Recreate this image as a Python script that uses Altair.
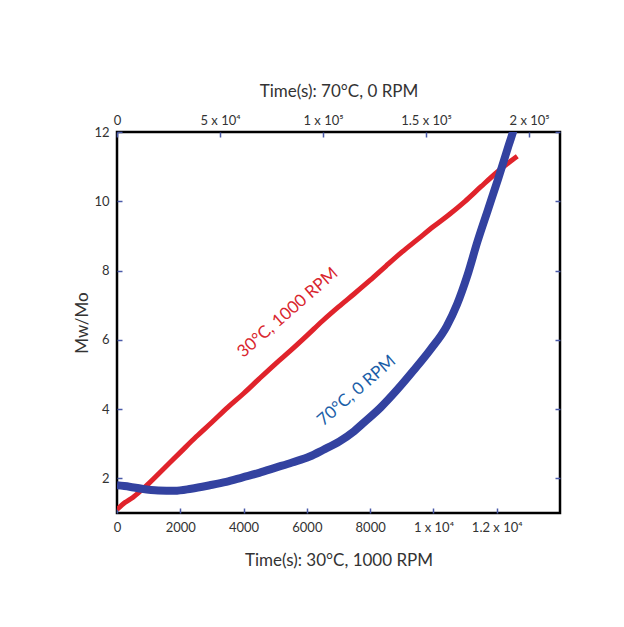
import altair as alt
import pandas as pd

# 30°C, 1000 RPM series (bottom time axis, s)
red_t = [0, 250, 500, 1000, 1500, 2000, 2500, 3000, 3500, 4000, 4500, 5000, 5500, 6000,
         6500, 7000, 7500, 8000, 8500, 9000, 9500, 10000, 10500, 11000, 11500, 12000, 12500, 12650]
red_mw = [1.1, 1.3, 1.45, 1.85, 2.3, 2.75, 3.2, 3.62, 4.05, 4.45, 4.88, 5.3, 5.7, 6.12,
          6.55, 6.95, 7.33, 7.72, 8.13, 8.53, 8.9, 9.27, 9.62, 10.0, 10.42, 10.83, 11.2, 11.3]

# 70°C, 0 RPM series (top time axis, s)
blue_t = [0, 6000, 12000, 20000, 28000, 36000, 45000, 53000, 61000, 69000, 77000, 85000,
          93500, 100000, 108000, 115000, 120000, 128000, 136000, 144000, 152000, 160000,
          165000, 170000, 175000, 180000, 185000, 190000, 193000, 194500]
blue_mw = [1.8, 1.76, 1.7, 1.65, 1.64, 1.7, 1.8, 1.9, 2.03, 2.16, 2.31, 2.46,
           2.63, 2.82, 3.07, 3.36, 3.62, 4.05, 4.56, 5.12, 5.71, 6.39,
           7.02, 7.85, 8.85, 9.75, 10.65, 11.6, 12.15, 12.45]

bottom_ticks = [0, 2000, 4000, 6000, 8000, 10000, 12000]
bottom_labels = ["0", "2000", "4000", "6000", "8000", "1 x 10\u2074", "1.2 x 10\u2074"]
top_ticks = [0, 50000, 100000, 150000, 200000]
top_labels = ["0", "5 x 10\u2074", "1 x 10\u2075", "1.5 x 10\u2075", "2 x 10\u2075"]
y_ticks = [2, 4, 6, 8, 10, 12]

labels_text = ["30°C, 1000 RPM", "70°C, 0 RPM"]
labels_x = [5400, 7575]   # in bottom-axis units
labels_y = [6.78, 4.53]

RED = "#e0232b"
BLUE = "#3342a0"
TICK = "#4a5aa8"
TXT = "#333333"
FONT = "Lato"

def label_expr(vals, labs):
    expr = "datum.label"
    for v, l in zip(vals, labs):
        expr = f"datum.value == {v} ? '{l}' : " + expr
    return expr

red_df = pd.DataFrame({"t": red_t, "mw": red_mw})
blue_df = pd.DataFrame({"t": blue_t, "mw": blue_mw})
lab_df = pd.DataFrame({"x": labels_x, "y": labels_y, "text": labels_text})

yscale = alt.Scale(domain=[1, 12], nice=False, zero=False)

common_axis = dict(domain=False, grid=False, tickSize=5, offset=-5, tickWidth=1.5,
                   tickColor=TICK, labelFont=FONT, labelFontSize=13, labelColor=TXT,
                   labelFlush=False, labelOverlap=False,
                   titleFont=FONT, titleFontSize=17, titleColor=TXT, titleFontWeight="normal")

red = alt.Chart(red_df).mark_line(color=RED, strokeWidth=5, clip=True,
                                  interpolate="monotone").encode(
    x=alt.X("t:Q", scale=alt.Scale(domain=[0, 14000], nice=False),
            axis=alt.Axis(orient="bottom", values=bottom_ticks,
                          labelExpr=label_expr(bottom_ticks, bottom_labels),
                          labelPadding=8, title="Time(s): 30°C, 1000 RPM", titlePadding=18,
                          **common_axis)),
    y=alt.Y("mw:Q", scale=yscale,
            axis=alt.Axis(orient="left", values=y_ticks, labelPadding=8,
                          title="Mw/Mo", titlePadding=2, **common_axis)),
)

blue = alt.Chart(blue_df).mark_line(color=BLUE, strokeWidth=8, clip=True,
                                    interpolate="monotone").encode(
    x=alt.X("t:Q", scale=alt.Scale(domain=[0, 215000], nice=False),
            axis=alt.Axis(orient="top", values=top_ticks,
                          labelExpr=label_expr(top_ticks, top_labels),
                          labelPadding=5, title="Time(s): 70°C, 0 RPM", titlePadding=14,
                          **common_axis)),
    y=alt.Y("mw:Q", scale=yscale,
            axis=alt.Axis(orient="right", values=y_ticks, labels=False, title=None,
                          **common_axis)),
)

texts = alt.Chart(lab_df).mark_text(angle=319, font=FONT, fontSize=17).encode(
    x=alt.X("x:Q", scale=alt.Scale(domain=[0, 14000], nice=False), axis=None),
    y=alt.Y("y:Q", scale=yscale, axis=None),
    text="text:N",
    color=alt.Color("text:N", scale=alt.Scale(domain=labels_text, range=["#d9262e", "#1a5ea8"]),
                    legend=None),
)

chart = alt.layer(red, blue, texts).resolve_scale(x="independent", color="independent").resolve_axis(
    x="independent", y="independent"
).properties(
    width=443, height=381,
    autosize=alt.AutoSizeParams(type="none"),
    padding={"left": 109, "top": 124, "right": 56, "bottom": 100},
    background="white",
).configure_view(stroke="black", strokeWidth=2.5)

chart.save("out.html", embed_options={"renderer": "svg", "actions": False})
